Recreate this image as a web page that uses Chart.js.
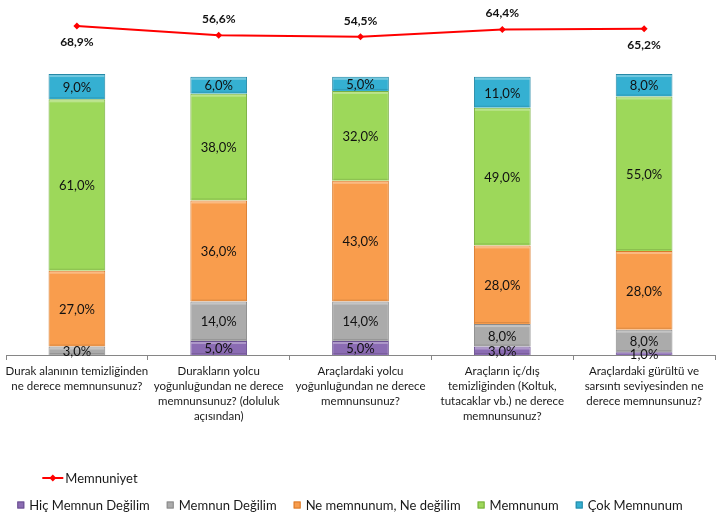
<!DOCTYPE html>
<html>
<head>
<meta charset="utf-8">
<script src="https://cdn.jsdelivr.net/npm/chart.js@4.4.1/dist/chart.umd.min.js"></script>
<style>
    html, body { margin: 0; padding: 0; background: #fff; }
</style>
</head>
<body>
<canvas id="myChart" width="726" height="524"></canvas>
<script>
// categories (x axis labels, already split in lines)
var categories = [
    ["Durak alanının temizliğinden", "ne derece memnunsunuz?"],
    ["Durakların yolcu", "yoğunluğundan ne derece", "memnunsunuz? (doluluk", "açısından)"],
    ["Araçlardaki yolcu", "yoğunluğundan ne derece", "memnunsunuz?"],
    ["Araçların iç/dış", "temizliğinden (Koltuk,", "tutacaklar vb.) ne derece", "memnunsunuz?"],
    ["Araçlardaki gürültü ve", "sarsıntı seviyesinden ne", "derece memnunsunuz?"]
];

// series values (%)
var hicMemnunDegilim = [0, 5, 5, 3, 1];
var memnunDegilim = [3, 14, 14, 8, 8];
var neMemnunum = [27, 36, 43, 28, 28];
var memnunum = [61, 38, 32, 49, 55];
var cokMemnunum = [9, 6, 5, 11, 8];
var memnuniyet = [68.9, 56.6, 54.5, 64.4, 65.2];

var FONT = "Lato, 'Open Sans', 'DejaVu Sans', sans-serif";

function pct(v) {
    return v.toFixed(1).replace(".", ",") + "%";
}

// data labels (no datalabels plugin available offline)
var labelPlugin = {
    id: "valueLabels",
    afterDatasetsDraw: function (chart, args, opts) {
        var ctx = chart.ctx;
        ctx.save();
        ctx.textAlign = "center";
        ctx.textBaseline = "middle";
        chart.data.datasets.forEach(function (ds, i) {
            var meta = chart.getDatasetMeta(i);
            if (meta.hidden) return;
            meta.data.forEach(function (el, j) {
                var v = ds.data[j];
                if (!v) return;
                if (ds.type === "line") {
                    ctx.font = "bold 12px " + FONT;
                    ctx.fillStyle = "#111";
                    var dy = opts.linePos[j] === "below" ? opts.lineOffset : -opts.lineOffset;
                    ctx.fillText(pct(v), el.x, el.y + dy);
                } else {
                    ctx.font = "13px " + FONT;
                    ctx.fillStyle = "#111";
                    ctx.fillText(pct(v), el.x, (el.y + el.base) / 2 + 1);
                }
            });
        });
        ctx.restore();
    }
};

// little highlight on top of each bar segment
var bevelPlugin = {
    id: "bevel",
    afterDatasetDraw: function (chart, args) {
        var ds = chart.data.datasets[args.index];
        if (ds.type === "line") return;
        var ctx = chart.ctx;
        ctx.save();
        args.meta.data.forEach(function (el, j) {
            if (!ds.data[j]) return;
            var h = el.base - el.y;
            if (h < 4) return;
            var left = el.x - el.width / 2 + 1, w = el.width - 2;
            ctx.fillStyle = "rgba(255,255,255,0.3)";
            ctx.fillRect(left, el.y + 1, w, 2);
            ctx.fillStyle = "rgba(0,0,0,0.12)";
            ctx.fillRect(left, el.base - 2, w, 1);
        });
        ctx.restore();
    }
};

// two-row legend like the original
var legendPlugin = {
    id: "twoRowLegend",
    afterDraw: function (chart, args, opts) {
        var ctx = chart.ctx;
        var items = chart.data.datasets;
        ctx.save();
        ctx.font = "13px " + FONT;
        ctx.textBaseline = "middle";
        ctx.textAlign = "left";

        var bars = items.filter(function (d) { return d.type !== "line"; });
        var gap = 17, box = 7, boxGap = 5;
        var total = 0;
        bars.forEach(function (d, i) {
            total += box + boxGap + ctx.measureText(d.label).width + (i < bars.length - 1 ? gap : 0);
        });
        var x = (chart.width - total) / 2 + opts.shift;
        var startX = x;
        var y2 = opts.row2;
        bars.forEach(function (d) {
            ctx.fillStyle = d.backgroundColor;
            ctx.fillRect(x, y2 - box / 2, box, box);
            ctx.strokeStyle = d.borderColor;
            ctx.lineWidth = 1;
            ctx.strokeRect(x + 0.5, y2 - box / 2 + 0.5, box - 1, box - 1);
            x += box + boxGap;
            ctx.fillStyle = "#1a1a1a";
            ctx.fillText(d.label, x, y2 + 1);
            x += ctx.measureText(d.label).width + gap;
        });

        items.filter(function (d) { return d.type === "line"; }).forEach(function (d) {
            var lx = startX + 25, y1 = opts.row1;
            ctx.strokeStyle = d.borderColor;
            ctx.lineWidth = 2;
            ctx.beginPath();
            ctx.moveTo(lx, y1);
            ctx.lineTo(lx + 21, y1);
            ctx.stroke();
            ctx.fillStyle = d.borderColor;
            ctx.beginPath();
            ctx.moveTo(lx + 10.5, y1 - 3.5);
            ctx.lineTo(lx + 14, y1);
            ctx.lineTo(lx + 10.5, y1 + 3.5);
            ctx.lineTo(lx + 7, y1);
            ctx.closePath();
            ctx.fill();
            ctx.fillStyle = "#1a1a1a";
            ctx.fillText(d.label, lx + 23, y1 + 1);
        });
        ctx.restore();
    }
};

function barSet(label, data, color, border) {
    return {
        type: "bar",
        label: label,
        data: data,
        backgroundColor: color,
        borderColor: border,
        borderWidth: 1,
        yAxisID: "y",
        order: 1
    };
}

const ctx = document.getElementById("myChart").getContext("2d");

var myChart = new Chart(ctx, {
    data: {
        labels: categories,
        datasets: [
            {
                type: "line",
                label: "Memnuniyet",
                data: memnuniyet,
                borderColor: "#ff0000",
                backgroundColor: "#ff0000",
                borderWidth: 2,
                pointStyle: "rectRot",
                pointRadius: 3.5,
                pointBorderWidth: 0,
                tension: 0,
                yAxisID: "y2",
                order: 0
            },
            barSet("Hiç Memnun Değilim", hicMemnunDegilim, "#8b6cb3", "#6a4f90"),
            barSet("Memnun Değilim", memnunDegilim, "#ababab", "#8a8a8a"),
            barSet("Ne memnunum, Ne değilim", neMemnunum, "#f99d4d", "#d97a2a"),
            barSet("Memnunum", memnunum, "#9dd85a", "#76ad3c"),
            barSet("Çok Memnunum", cokMemnunum, "#35b0d2", "#2689a6")
        ]
    },
    options: {
        responsive: false,
        animation: { duration: 0 },
        layout: { padding: { left: 6, right: 11, top: 10, bottom: 0 } },
        datasets: {
            bar: { categoryPercentage: 1, barPercentage: 0.4 }
        },
        scales: {
            x: {
                stacked: true,
                grid: {
                    offset: true,
                    drawOnChartArea: false,
                    drawTicks: true,
                    tickLength: 5,
                    color: "#868686"
                },
                border: { display: true, color: "#868686" },
                ticks: {
                    autoSkip: false,
                    maxRotation: 0,
                    padding: 4,
                    color: "#1a1a1a",
                    font: { family: FONT, size: 11.5, lineHeight: 1.3 }
                },
                afterFit: function (scale) {
                    scale.height = 169;
                }
            },
            y: {
                display: false,
                stacked: true,
                min: 0,
                max: 122.8
            },
            y2: {
                display: false,
                position: "right",
                min: -376,
                max: 90.7
            }
        },
        plugins: {
            legend: { display: false },
            tooltip: { enabled: false },
            valueLabels: {
                linePos: ["below", "above", "above", "above", "below"],
                lineOffset: 16
            },
            twoRowLegend: { row1: 478, row2: 505, shift: -13 }
        }
    },
    plugins: [bevelPlugin, labelPlugin, legendPlugin]
});
</script>
</body>
</html>
